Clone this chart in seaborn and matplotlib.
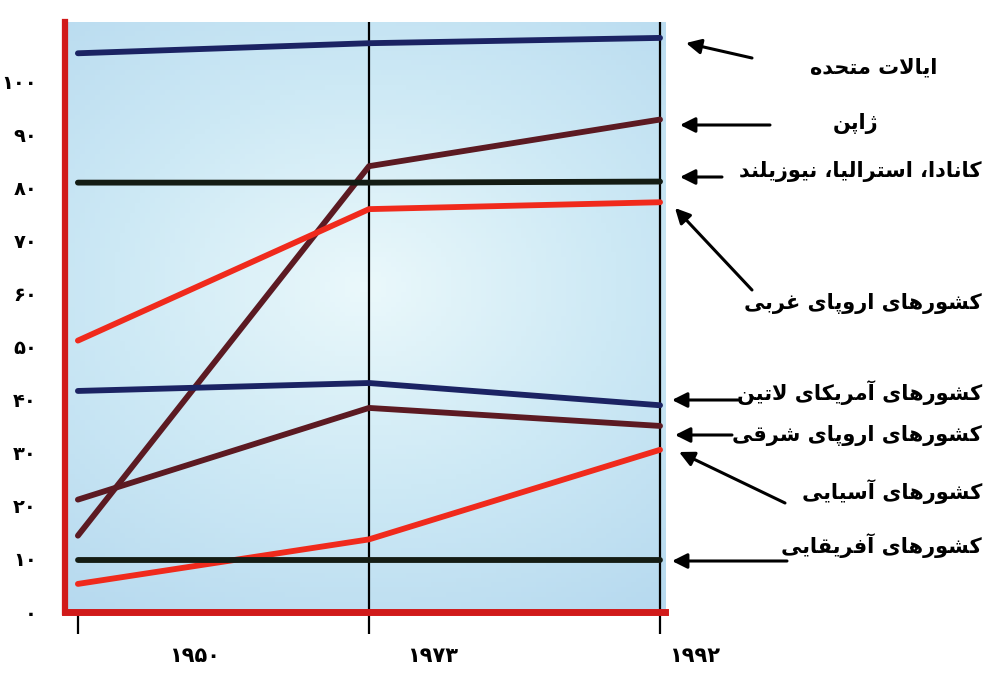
import numpy as np
import pandas as pd
import matplotlib
matplotlib.use("Agg")
import matplotlib.pyplot as plt
import matplotlib.transforms as mtransforms
from matplotlib.colors import LinearSegmentedColormap
import seaborn as sns

# data (index, US-like scale, 0-110)
years = ["۱۹۵۰", "۱۹۷۳", "۱۹۹۲"]
y_ticks = [0, 10, 20, 30, 40, 50, 60, 70, 80, 90, 100]
y_tick_labels = ["۰", "۱۰", "۲۰", "۳۰", "۴۰", "۵۰", "۶۰", "۷۰", "۸۰", "۹۰", "۱۰۰"]

usa = [105.4, 107.3, 108.3]
japan = [14.4, 84.1, 92.9]
canada_aus_nz = [81.0, 81.0, 81.2]
west_europe = [51.2, 76.0, 77.3]
latin_america = [41.7, 43.2, 39.0]
east_europe = [21.2, 38.5, 35.1]
asia = [5.3, 13.7, 30.6]
africa = [9.9, 9.9, 9.9]

names = ["ایالات متحده", "ژاپن", "کانادا، استرالیا، نیوزیلند",
         "کشورهای اروپای غربی", "کشورهای آمریکای لاتین",
         "کشورهای اروپای شرقی", "کشورهای آسیایی", "کشورهای آفریقایی"]
series = [usa, japan, canada_aus_nz, west_europe, latin_america,
          east_europe, asia, africa]
colors = ["#1b2363", "#5c1a22", "#141c14", "#f02a1c",
          "#1b2363", "#5c1a22", "#f02a1c", "#141c14"]

###############################################################################
# matplotlib has no arabic shaping, so pick the presentation forms by hand
###############################################################################
FORMS = {
    "ا": ("\uFE8D", "\uFE8E", None, None),
    "آ": ("\uFE81", "\uFE82", None, None),
    "ب": ("\uFE8F", "\uFE90", "\uFE91", "\uFE92"),
    "پ": ("\uFB56", "\uFB57", "\uFB58", "\uFB59"),
    "ت": ("\uFE95", "\uFE96", "\uFE97", "\uFE98"),
    "ح": ("\uFEA1", "\uFEA2", "\uFEA3", "\uFEA4"),
    "د": ("\uFEA9", "\uFEAA", None, None),
    "ر": ("\uFEAD", "\uFEAE", None, None),
    "ز": ("\uFEAF", "\uFEB0", None, None),
    "ژ": ("\uFB8A", "\uFB8B", None, None),
    "س": ("\uFEB1", "\uFEB2", "\uFEB3", "\uFEB4"),
    "ش": ("\uFEB5", "\uFEB6", "\uFEB7", "\uFEB8"),
    "غ": ("\uFECD", "\uFECE", "\uFECF", "\uFED0"),
    "ف": ("\uFED1", "\uFED2", "\uFED3", "\uFED4"),
    "ق": ("\uFED5", "\uFED6", "\uFED7", "\uFED8"),
    "ک": ("\uFB8E", "\uFB8F", "\uFB90", "\uFB91"),
    "ل": ("\uFEDD", "\uFEDE", "\uFEDF", "\uFEE0"),
    "م": ("\uFEE1", "\uFEE2", "\uFEE3", "\uFEE4"),
    "ن": ("\uFEE5", "\uFEE6", "\uFEE7", "\uFEE8"),
    "ه": ("\uFEE9", "\uFEEA", "\uFEEB", "\uFEEC"),
    "و": ("\uFEED", "\uFEEE", None, None),
    "ی": ("\uFBFC", "\uFBFD", "\uFBFE", "\uFBFF"),
    "لا": ("\uFEFB", "\uFEFC", None, None),
}


def shape(text):
    units = []
    i = 0
    while i < len(text):
        if text[i] == "ل" and i + 1 < len(text) and text[i + 1] == "ا":
            units.append("لا")
            i += 2
        else:
            units.append(text[i])
            i += 1
    out = []
    for k, u in enumerate(units):
        if u not in FORMS:
            out.append(u)
            continue
        prev = units[k - 1] if k > 0 else None
        nxt = units[k + 1] if k + 1 < len(units) else None
        joins_prev = prev in FORMS and FORMS[prev][2] is not None
        joins_next = FORMS[u][2] is not None and nxt in FORMS
        isol, fina, init, medi = FORMS[u]
        if joins_prev and joins_next:
            out.append(medi)
        elif joins_prev:
            out.append(fina)
        elif joins_next:
            out.append(init)
        else:
            out.append(isol)
    return "".join(out)[::-1]


rows = []
for name, vals in zip(names, series):
    for pos, v in enumerate(vals):
        rows.append({"pos": pos, "value": v, "series": name})
df = pd.DataFrame(rows)

sns.set_style("white")
plt.rcParams["font.family"] = ["DejaVu Sans"]
plt.rcParams["text.color"] = "black"

W, H = 997, 677
fig = plt.figure(figsize=(W / 100, H / 100), dpi=100)
ax = fig.add_axes([0.065, 0.096, 0.602, 0.8715])

# pale blue backdrop, lighter in the middle
bg_cmap = LinearSegmentedColormap.from_list("bg", ["#eaf8fb", "#cde9f5", "#b6d9ef"])
gx, gy = np.meshgrid(np.linspace(-1, 1, 120), np.linspace(-1, 1, 120))
ax.imshow(np.sqrt((gx * 0.9) ** 2 + ((gy + 0.1) * 1.1) ** 2), cmap=bg_cmap,
          extent=[0, 1, 0, 1], transform=ax.transAxes, aspect="auto", zorder=0)

for x in [1, 2]:
    ax.axvline(x, color="black", lw=1.6, zorder=1)

sns.lineplot(data=df, x="pos", y="value", hue="series", palette=dict(zip(names, colors)),
             linewidth=4.2, legend=False, ax=ax, sort=False, zorder=3)

ax.set_xlim(-0.045, 2.017)
ax.set_ylim(0.5, 111.3)
ax.set_xlabel("")
ax.set_ylabel("")

ax.set_yticks(y_ticks, y_tick_labels, fontsize=14, fontweight="bold")
ax.tick_params(axis="y", length=0, pad=20, labelcolor="black")
ax.set_xticks([0, 1, 2], ["", "", ""])
ax.tick_params(axis="x", bottom=True, length=16, width=1.6, color="black",
               direction="out")

for side in ["top", "right"]:
    ax.spines[side].set_visible(False)
ax.spines["left"].set_color("#d11a1a")
ax.spines["left"].set_linewidth(4.5)
ax.spines["bottom"].set_color("#d11a1a")
ax.spines["bottom"].set_linewidth(5)
ax.spines["left"].set_zorder(5)
ax.spines["bottom"].set_zorder(5)

# year labels sit to the right of their ticks in the original
blend = mtransforms.blended_transform_factory(ax.transData, ax.transAxes)
for pos, lab, shift in zip([0, 1, 2], years, [0.4, 0.22, 0.12]):
    ax.text(pos + shift, -0.075, lab, transform=blend, ha="center", va="center",
            fontsize=15, fontweight="bold", color="black", clip_on=False)


def fxy(px, py):
    return (px / W, 1 - py / H)


# label text (right edge / centre in pixels) and arrow tail -> tip
label_pos = [(937, 67, "right"), (856, 124, "center"), (982, 172, "right"),
             (982, 303, "right"), (982, 393, "right"), (982, 436, "right"),
             (982, 492, "right"), (982, 546, "right")]
arrows = [((752, 58), (686, 43)), ((770, 125), (680, 125)), ((722, 177), (680, 177)),
          ((752, 290), (675, 208)), ((738, 400), (672, 400)), ((732, 435), (675, 435)),
          ((785, 503), (679, 452)), ((787, 561), (672, 561))]

for name, (tx, ty, ha), (tail, tip) in zip(names, label_pos, arrows):
    fig.text(*fxy(tx, ty), shape(name), ha=ha, va="center", fontsize=15,
             fontweight="bold", color="black")
    ax.annotate("", xy=fxy(*tip), xycoords="figure fraction", xytext=fxy(*tail),
                textcoords="figure fraction", annotation_clip=False,
                arrowprops=dict(arrowstyle="-|>,head_length=0.9,head_width=0.45",
                                color="black", lw=2.2, shrinkA=0, shrinkB=0))

fig.savefig("out.png", dpi=100)
